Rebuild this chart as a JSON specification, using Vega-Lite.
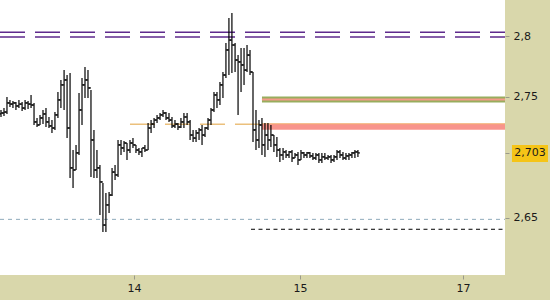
{
"$schema":"https://vega.github.io/schema/vega-lite/v6.json",
"width":505,"height":275,
"autosize":"none",
"padding":{"left":0,"top":0,"right":45,"bottom":25},
"background":"#d9d7ab",
"config":{
"view":{"fill":"#ffffff","stroke":null},
"axis":{"grid":false,"domain":false,"tickColor":"#9a9a8a","tickSize":4,"labelFont":"DejaVu Sans","labelFontSize":11,"labelColor":"#1a1a1a","title":null},
"axisY":{"labelPadding":4},
"axisX":{"labelPadding":3}
},
"datasets":{
"levels":[
{"name":"purple_hi","t":13.193,"t2":16.235,"p":2.8031},
{"name":"purple_lo","t":13.193,"t2":16.235,"p":2.7992},
{"name":"olive","t":14.771,"t2":16.235,"p":2.7475},
{"name":"orange","t":13.976,"t2":14.771,"p":2.7271},
{"name":"pink","t":14.771,"t2":16.235,"p":2.7250},
{"name":"blue","t":13.193,"t2":16.235,"p":2.6485},
{"name":"black","t":14.705,"t2":16.235,"p":2.6403}
],
"bars":[
{"t":13.199,"h":2.7389,"l":2.7331,"o":2.7356,"c":2.7364},
{"t":13.217,"h":2.7405,"l":2.7339,"o":2.7364,"c":2.7372},
{"t":13.235,"h":2.7496,"l":2.7356,"o":2.7372,"c":2.7447},
{"t":13.253,"h":2.7472,"l":2.7414,"o":2.7447,"c":2.7438},
{"t":13.271,"h":2.7463,"l":2.7405,"o":2.7438,"c":2.7447},
{"t":13.289,"h":2.7455,"l":2.7389,"o":2.7447,"c":2.7422},
{"t":13.307,"h":2.7472,"l":2.7405,"o":2.7422,"c":2.7438},
{"t":13.326,"h":2.7455,"l":2.7381,"o":2.7438,"c":2.7405},
{"t":13.344,"h":2.7472,"l":2.7389,"o":2.7405,"c":2.7447},
{"t":13.362,"h":2.7463,"l":2.7397,"o":2.7447,"c":2.7438},
{"t":13.380,"h":2.7513,"l":2.7405,"o":2.7438,"c":2.7430},
{"t":13.398,"h":2.7447,"l":2.7265,"o":2.7430,"c":2.7290},
{"t":13.416,"h":2.7323,"l":2.7248,"o":2.7290,"c":2.7265},
{"t":13.434,"h":2.7348,"l":2.7265,"o":2.7265,"c":2.7323},
{"t":13.452,"h":2.7389,"l":2.7273,"o":2.7323,"c":2.7356},
{"t":13.470,"h":2.7405,"l":2.7248,"o":2.7356,"c":2.7290},
{"t":13.488,"h":2.7331,"l":2.7240,"o":2.7290,"c":2.7257},
{"t":13.506,"h":2.7306,"l":2.7199,"o":2.7257,"c":2.7240},
{"t":13.524,"h":2.7372,"l":2.7224,"o":2.7240,"c":2.7348},
{"t":13.542,"h":2.7538,"l":2.7323,"o":2.7348,"c":2.7472},
{"t":13.560,"h":2.7637,"l":2.7405,"o":2.7472,"c":2.7596},
{"t":13.579,"h":2.7719,"l":2.7389,"o":2.7596,"c":2.7637},
{"t":13.597,"h":2.7678,"l":2.7157,"o":2.7637,"c":2.7240},
{"t":13.615,"h":2.7695,"l":2.6827,"o":2.7240,"c":2.6910},
{"t":13.633,"h":2.7058,"l":2.6744,"o":2.6910,"c":2.6893},
{"t":13.651,"h":2.7100,"l":2.6893,"o":2.6893,"c":2.7034},
{"t":13.669,"h":2.7529,"l":2.7017,"o":2.7034,"c":2.7389},
{"t":13.687,"h":2.7653,"l":2.7265,"o":2.7389,"c":2.7596},
{"t":13.705,"h":2.7744,"l":2.7488,"o":2.7596,"c":2.7637},
{"t":13.723,"h":2.7719,"l":2.7488,"o":2.7637,"c":2.7571},
{"t":13.741,"h":2.7554,"l":2.6835,"o":2.7571,"c":2.7141},
{"t":13.759,"h":2.7224,"l":2.6827,"o":2.7141,"c":2.6893},
{"t":13.777,"h":2.7058,"l":2.6827,"o":2.6893,"c":2.6910},
{"t":13.795,"h":2.6934,"l":2.6521,"o":2.6910,"c":2.6794},
{"t":13.813,"h":2.6786,"l":2.6381,"o":2.6794,"c":2.6438},
{"t":13.831,"h":2.6703,"l":2.6381,"o":2.6438,"c":2.6604},
{"t":13.850,"h":2.6711,"l":2.6538,"o":2.6604,"c":2.6686},
{"t":13.868,"h":2.6910,"l":2.6678,"o":2.6686,"c":2.6876},
{"t":13.886,"h":2.6934,"l":2.6810,"o":2.6876,"c":2.6852},
{"t":13.904,"h":2.7141,"l":2.6835,"o":2.6852,"c":2.7100},
{"t":13.922,"h":2.7141,"l":2.7017,"o":2.7100,"c":2.7075},
{"t":13.940,"h":2.7133,"l":2.7042,"o":2.7075,"c":2.7116},
{"t":13.958,"h":2.7116,"l":2.6976,"o":2.7116,"c":2.7058},
{"t":13.976,"h":2.7141,"l":2.7034,"o":2.7058,"c":2.7116},
{"t":13.994,"h":2.7157,"l":2.7075,"o":2.7116,"c":2.7100},
{"t":14.012,"h":2.7100,"l":2.7034,"o":2.7100,"c":2.7058},
{"t":14.030,"h":2.7075,"l":2.7017,"o":2.7058,"c":2.7042},
{"t":14.048,"h":2.7075,"l":2.7001,"o":2.7042,"c":2.7075},
{"t":14.066,"h":2.7100,"l":2.7042,"o":2.7075,"c":2.7058},
{"t":14.085,"h":2.7281,"l":2.7058,"o":2.7058,"c":2.7240},
{"t":14.103,"h":2.7306,"l":2.7199,"o":2.7240,"c":2.7273},
{"t":14.121,"h":2.7323,"l":2.7240,"o":2.7273,"c":2.7306},
{"t":14.139,"h":2.7348,"l":2.7281,"o":2.7306,"c":2.7323},
{"t":14.157,"h":2.7364,"l":2.7306,"o":2.7323,"c":2.7348},
{"t":14.175,"h":2.7389,"l":2.7331,"o":2.7348,"c":2.7364},
{"t":14.193,"h":2.7372,"l":2.7306,"o":2.7364,"c":2.7323},
{"t":14.211,"h":2.7364,"l":2.7290,"o":2.7323,"c":2.7306},
{"t":14.229,"h":2.7331,"l":2.7240,"o":2.7306,"c":2.7257},
{"t":14.247,"h":2.7306,"l":2.7240,"o":2.7257,"c":2.7273},
{"t":14.265,"h":2.7281,"l":2.7224,"o":2.7273,"c":2.7248},
{"t":14.283,"h":2.7323,"l":2.7240,"o":2.7248,"c":2.7290},
{"t":14.301,"h":2.7364,"l":2.7240,"o":2.7290,"c":2.7331},
{"t":14.320,"h":2.7364,"l":2.7265,"o":2.7331,"c":2.7290},
{"t":14.338,"h":2.7306,"l":2.7141,"o":2.7290,"c":2.7182},
{"t":14.356,"h":2.7224,"l":2.7124,"o":2.7182,"c":2.7157},
{"t":14.374,"h":2.7224,"l":2.7124,"o":2.7157,"c":2.7199},
{"t":14.392,"h":2.7240,"l":2.7141,"o":2.7199,"c":2.7224},
{"t":14.410,"h":2.7265,"l":2.7100,"o":2.7224,"c":2.7182},
{"t":14.428,"h":2.7248,"l":2.7166,"o":2.7182,"c":2.7240},
{"t":14.446,"h":2.7323,"l":2.7224,"o":2.7240,"c":2.7306},
{"t":14.464,"h":2.7405,"l":2.7265,"o":2.7306,"c":2.7389},
{"t":14.482,"h":2.7538,"l":2.7372,"o":2.7389,"c":2.7513},
{"t":14.500,"h":2.7538,"l":2.7405,"o":2.7513,"c":2.7472},
{"t":14.518,"h":2.7620,"l":2.7430,"o":2.7472,"c":2.7596},
{"t":14.536,"h":2.7703,"l":2.7488,"o":2.7596,"c":2.7678},
{"t":14.554,"h":2.7943,"l":2.7653,"o":2.7678,"c":2.7885},
{"t":14.572,"h":2.8149,"l":2.7678,"o":2.7885,"c":2.7967},
{"t":14.590,"h":2.8191,"l":2.7695,"o":2.7967,"c":2.7926},
{"t":14.609,"h":2.7943,"l":2.7703,"o":2.7926,"c":2.7802},
{"t":14.627,"h":2.7843,"l":2.7348,"o":2.7802,"c":2.7786},
{"t":14.645,"h":2.7901,"l":2.7538,"o":2.7786,"c":2.7761},
{"t":14.663,"h":2.7901,"l":2.7596,"o":2.7761,"c":2.7719},
{"t":14.681,"h":2.7926,"l":2.7703,"o":2.7719,"c":2.7843},
{"t":14.699,"h":2.7885,"l":2.7678,"o":2.7843,"c":2.7703},
{"t":14.717,"h":2.7703,"l":2.7124,"o":2.7703,"c":2.7224},
{"t":14.735,"h":2.7389,"l":2.7058,"o":2.7224,"c":2.7141},
{"t":14.753,"h":2.7306,"l":2.7075,"o":2.7141,"c":2.7265},
{"t":14.771,"h":2.7323,"l":2.7017,"o":2.7265,"c":2.7100},
{"t":14.789,"h":2.7281,"l":2.7001,"o":2.7100,"c":2.7182},
{"t":14.807,"h":2.7281,"l":2.7058,"o":2.7182,"c":2.7141},
{"t":14.825,"h":2.7265,"l":2.7083,"o":2.7141,"c":2.7182},
{"t":14.843,"h":2.7182,"l":2.7042,"o":2.7182,"c":2.7100},
{"t":14.861,"h":2.7166,"l":2.7001,"o":2.7100,"c":2.7058},
{"t":14.879,"h":2.7075,"l":2.6959,"o":2.7058,"c":2.7017},
{"t":14.898,"h":2.7075,"l":2.6976,"o":2.7017,"c":2.7042},
{"t":14.916,"h":2.7058,"l":2.6992,"o":2.7042,"c":2.7017},
{"t":14.934,"h":2.7050,"l":2.6992,"o":2.7017,"c":2.7042},
{"t":14.952,"h":2.7058,"l":2.6959,"o":2.7042,"c":2.6992},
{"t":14.970,"h":2.7034,"l":2.6992,"o":2.6992,"c":2.7017},
{"t":14.988,"h":2.7042,"l":2.6934,"o":2.7017,"c":2.6976},
{"t":15.006,"h":2.7058,"l":2.6976,"o":2.6976,"c":2.7034},
{"t":15.024,"h":2.7042,"l":2.6992,"o":2.7034,"c":2.7017},
{"t":15.042,"h":2.7042,"l":2.6992,"o":2.7017,"c":2.7034},
{"t":15.060,"h":2.7042,"l":2.6992,"o":2.7034,"c":2.7009},
{"t":15.078,"h":2.7034,"l":2.6976,"o":2.7009,"c":2.6992},
{"t":15.096,"h":2.7034,"l":2.6976,"o":2.6992,"c":2.7017},
{"t":15.114,"h":2.7034,"l":2.6951,"o":2.7017,"c":2.6976},
{"t":15.132,"h":2.7034,"l":2.6951,"o":2.6976,"c":2.7001},
{"t":15.150,"h":2.7034,"l":2.6976,"o":2.7001,"c":2.6992},
{"t":15.169,"h":2.7017,"l":2.6976,"o":2.6992,"c":2.7001},
{"t":15.187,"h":2.7017,"l":2.6951,"o":2.7001,"c":2.6976},
{"t":15.205,"h":2.7017,"l":2.6959,"o":2.6976,"c":2.7001},
{"t":15.223,"h":2.7058,"l":2.6976,"o":2.7001,"c":2.7042},
{"t":15.241,"h":2.7058,"l":2.6992,"o":2.7042,"c":2.7017},
{"t":15.259,"h":2.7042,"l":2.6976,"o":2.7017,"c":2.6992},
{"t":15.277,"h":2.7034,"l":2.6976,"o":2.6992,"c":2.7009},
{"t":15.295,"h":2.7034,"l":2.6976,"o":2.7009,"c":2.7017},
{"t":15.313,"h":2.7042,"l":2.6992,"o":2.7017,"c":2.7034},
{"t":15.331,"h":2.7058,"l":2.6992,"o":2.7034,"c":2.7042},
{"t":15.349,"h":2.7058,"l":2.7001,"o":2.7042,"c":2.7034}
],
"last":[{"t":16.277,"t2":16.494,"tc":16.386,"p":2.703,"ph":2.7100,"pl":2.6959,"label":"2,703"}]
},
"layer":[
{"data":{"name":"levels"},"transform":[{"filter":"datum.name == 'purple_hi'"}],
 "mark":{"type":"rule","color":"#5e2a8c","strokeWidth":1.5,"strokeDash":[25,10]},
 "encoding":{
  "x":{"field":"t","type":"quantitative","title":null,"scale":{"domain":[13.193,16.235],"nice":false,"zero":false},
       "axis":{"values":[14,15,15.982],"labelExpr":"datum.value > 15.5 ? '17' : format(datum.value, 'd')","orient":"bottom"}},
  "x2":{"field":"t2"},
  "y":{"field":"p","type":"quantitative","title":null,"scale":{"domain":[2.6025,2.8298],"nice":false,"zero":false},
       "axis":{"orient":"right","values":[2.65,2.703,2.75,2.8],"labelExpr":"datum.value == 2.703 ? '' : replace('' + datum.value, '.', ',')"}}
 }},
{"data":{"name":"levels"},"transform":[{"filter":"datum.name == 'purple_lo'"}],
 "mark":{"type":"rule","color":"#5e2a8c","strokeWidth":1.5,"strokeDash":[25,10]},
 "encoding":{"x":{"field":"t","type":"quantitative","title":null},"x2":{"field":"t2"},"y":{"field":"p","type":"quantitative","title":null}}},
{"data":{"name":"levels"},"transform":[{"filter":"datum.name == 'olive'"}],
 "mark":{"type":"rule","color":"#98ad5e","strokeWidth":6},
 "encoding":{"x":{"field":"t","type":"quantitative","title":null},"x2":{"field":"t2"},"y":{"field":"p","type":"quantitative","title":null}}},
{"data":{"name":"levels"},"transform":[{"filter":"datum.name == 'olive'"}],
 "mark":{"type":"rule","color":"#f59a8a","strokeWidth":2},
 "encoding":{"x":{"field":"t","type":"quantitative","title":null},"x2":{"field":"t2"},"y":{"field":"p","type":"quantitative","title":null}}},
{"data":{"name":"levels"},"transform":[{"filter":"datum.name == 'orange'"}],
 "mark":{"type":"rule","color":"#ebc07c","strokeWidth":1.5,"strokeDash":[25,10]},
 "encoding":{"x":{"field":"t","type":"quantitative","title":null},"x2":{"field":"t2"},"y":{"field":"p","type":"quantitative","title":null}}},
{"data":{"name":"levels"},"transform":[{"filter":"datum.name == 'pink'"}],
 "mark":{"type":"rule","color":"#f8948c","strokeWidth":6},
 "encoding":{"x":{"field":"t","type":"quantitative","title":null},"x2":{"field":"t2"},"y":{"field":"p","type":"quantitative","title":null}}},
{"data":{"name":"levels"},"transform":[{"filter":"datum.name == 'pink'"}],
 "mark":{"type":"rule","color":"#f2b070","strokeWidth":1,"yOffset":-3},
 "encoding":{"x":{"field":"t","type":"quantitative","title":null},"x2":{"field":"t2"},"y":{"field":"p","type":"quantitative","title":null}}},
{"data":{"name":"levels"},"transform":[{"filter":"datum.name == 'blue'"}],
 "mark":{"type":"rule","color":"#8eaabb","strokeWidth":1,"strokeDash":[4,4]},
 "encoding":{"x":{"field":"t","type":"quantitative","title":null},"x2":{"field":"t2"},"y":{"field":"p","type":"quantitative","title":null}}},
{"data":{"name":"levels"},"transform":[{"filter":"datum.name == 'black'"}],
 "mark":{"type":"rule","color":"#000000","strokeWidth":1,"strokeDash":[4,3.5]},
 "encoding":{"x":{"field":"t","type":"quantitative","title":null},"x2":{"field":"t2"},"y":{"field":"p","type":"quantitative","title":null}}},
{"data":{"name":"bars"},
 "mark":{"type":"rule","color":"#000000","strokeWidth":1.2},
 "encoding":{"x":{"field":"t","type":"quantitative","title":null},"y":{"field":"h","type":"quantitative","title":null},"y2":{"field":"l"}}},
{"data":{"name":"bars"},
 "mark":{"type":"rule","color":"#000000","strokeWidth":1.2,"xOffset":-2},
 "encoding":{"x":{"field":"t","type":"quantitative","title":null},"x2":{"field":"t"},"y":{"field":"o","type":"quantitative","title":null}}},
{"data":{"name":"bars"},
 "mark":{"type":"rule","color":"#000000","strokeWidth":1.2,"x2Offset":2},
 "encoding":{"x":{"field":"t","type":"quantitative","title":null},"x2":{"field":"t"},"y":{"field":"c","type":"quantitative","title":null}}},
{"data":{"name":"last"},
 "mark":{"type":"rect","color":"#f5c417","clip":false},
 "encoding":{"x":{"field":"t","type":"quantitative","title":null},"x2":{"field":"t2"},"y":{"field":"ph","type":"quantitative","title":null},"y2":{"field":"pl"}}},
{"data":{"name":"last"},
 "mark":{"type":"text","color":"#1a1a1a","font":"DejaVu Sans","fontSize":11,"align":"center","baseline":"middle","clip":false},
 "encoding":{"x":{"field":"tc","type":"quantitative","title":null},"y":{"field":"p","type":"quantitative","title":null},"text":{"field":"label"}}}
]
}
